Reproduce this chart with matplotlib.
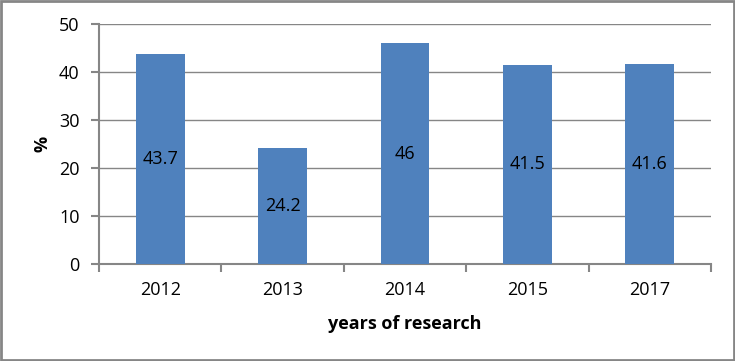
import matplotlib.pyplot as plt
import numpy as np

years = ['2012', '2013', '2014', '2015', '2017']
values = [43.7, 24.2, 46, 41.5, 41.6]
labels = ['43.7', '24.2', '46', '41.5', '41.6']

plt.rcParams['font.family'] = ['Open Sans', 'DejaVu Sans']

fig = plt.figure(figsize=(7.35, 3.61), dpi=100)
ax = fig.add_axes([99 / 735, 1 - 264 / 361, 612 / 735, 240 / 361])

grey = '#868686'
x = np.arange(len(years))
bars = ax.bar(x, values, width=0.4, color='#4F81BD', zorder=3)
for b, t in zip(bars, labels):
    ax.text(b.get_x() + b.get_width() / 2, b.get_height() / 2, t,
            ha='center', va='center', fontsize=13, color='#000000', zorder=4)

ax.set_xlim(-0.5, len(years) - 0.5)
ax.set_ylim(0, 50)
ax.set_yticks(range(0, 51, 10))
ax.yaxis.grid(True, color=grey, linewidth=1, zorder=0)

# ticks on category boundaries
ax.set_xticks(np.arange(-0.5, len(years), 1.0))
ax.set_xticklabels([])
ax.set_xticks(x, minor=True)
ax.set_xticklabels(years, minor=True, fontsize=13)
ax.tick_params(axis='x', which='minor', length=0, pad=12)
ax.tick_params(axis='x', which='major', length=6, color=grey, width=1.5)
ax.tick_params(axis='y', length=6, color=grey, width=1.5, labelsize=13, pad=8)

for s in ['top', 'right']:
    ax.spines[s].set_visible(False)
for s in ['left', 'bottom']:
    ax.spines[s].set_color(grey)
    ax.spines[s].set_linewidth(1.5)

ax.set_xlabel('years of research', fontsize=13, fontweight='bold', labelpad=12)
ax.set_ylabel('%', fontsize=13, fontweight='bold', labelpad=5)

fig.patches.append(plt.Rectangle((0.001, 0.002), 0.997, 0.995, transform=fig.transFigure,
                                 fill=False, edgecolor=grey, linewidth=2))

fig.savefig('out.png', dpi=100)
